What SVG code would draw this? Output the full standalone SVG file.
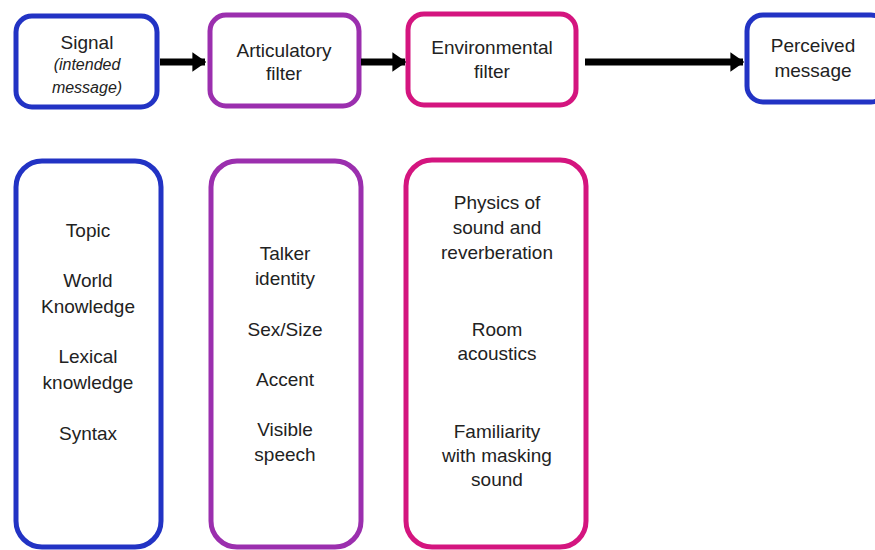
<svg xmlns="http://www.w3.org/2000/svg" width="875" height="550" viewBox="0 0 875 550">
<style>
.box{fill:#fff;stroke-width:5}
.b{stroke:#2233c4}
.p{stroke:#9b2fae}
.m{stroke:#d4157f}
text{font-family:"Liberation Sans",Arial,sans-serif;font-size:19px;fill:#222;text-anchor:middle}
.it{font-style:italic;font-size:16px}
.conn{stroke:#000;stroke-width:7;fill:none}
</style>
<defs>
<marker id="ah" viewBox="0 0 10 10" refX="9" refY="5" markerWidth="2" markerHeight="2.8" markerUnits="strokeWidth" orient="auto" preserveAspectRatio="none">
<path d="M0,0 L10,5 L0,10 Z" fill="#000"/>
</marker>
</defs>
<rect width="875" height="550" fill="#fff"/>
<g id="signal">
<rect class="box b" x="16" y="16" width="141" height="91" rx="16"/>
<text x="87" y="49">Signal</text>
<text class="it" x="87" y="70">(intended</text>
<text class="it" x="87" y="93">message)</text>
</g>
<g id="articulatory">
<rect class="box p" x="210" y="15" width="149" height="91" rx="16"/>
<text x="284" y="57">Articulatory</text>
<text x="284" y="80">filter</text>
</g>
<g id="environmental">
<rect class="box m" x="408" y="14" width="168" height="91" rx="16"/>
<text x="492" y="54">Environmental</text>
<text x="492" y="78">filter</text>
</g>
<g id="perceived">
<rect class="box b" x="747" y="15" width="140" height="87" rx="16"/>
<text x="813" y="52">Perceived</text>
<text x="813" y="77">message</text>
</g>
<g id="connectors">
<line class="conn" x1="160" y1="62" x2="205" y2="62" marker-end="url(#ah)"/>
<line class="conn" x1="361" y1="62" x2="405" y2="62" marker-end="url(#ah)"/>
<line class="conn" x1="585" y1="62" x2="743" y2="62" marker-end="url(#ah)"/>
</g>
<g id="knowledge">
<rect class="box b" x="16" y="161" width="145" height="386" rx="26"/>
<text x="88" y="237">Topic</text>
<text x="88" y="287">World</text>
<text x="88" y="313">Knowledge</text>
<text x="88" y="363">Lexical</text>
<text x="88" y="389">knowledge</text>
<text x="88" y="440">Syntax</text>
</g>
<g id="talker">
<rect class="box p" x="211" y="161" width="150" height="386" rx="26"/>
<text x="285" y="260">Talker</text>
<text x="285" y="285">identity</text>
<text x="285" y="336">Sex/Size</text>
<text x="285" y="386">Accent</text>
<text x="285" y="436">Visible</text>
<text x="285" y="461">speech</text>
</g>
<g id="environment">
<rect class="box m" x="406" y="160" width="180" height="387" rx="26"/>
<text x="497" y="209">Physics of</text>
<text x="497" y="234">sound and</text>
<text x="497" y="259">reverberation</text>
<text x="497" y="336">Room</text>
<text x="497" y="360">acoustics</text>
<text x="497" y="438">Familiarity</text>
<text x="497" y="462">with masking</text>
<text x="497" y="486">sound</text>
</g>
</svg>
